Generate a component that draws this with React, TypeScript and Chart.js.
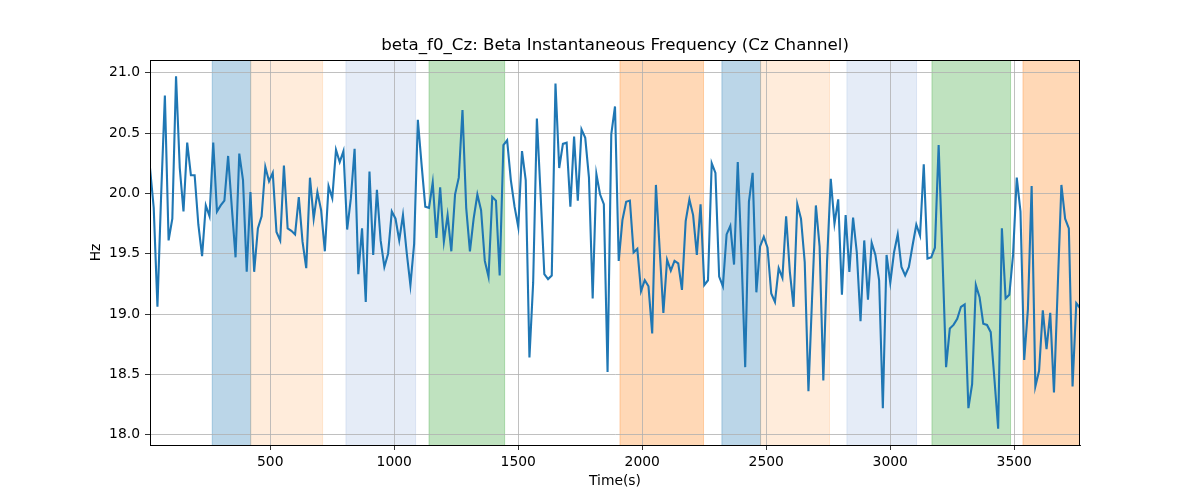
import React, { useEffect, useRef } from "react";
import { Chart, registerables } from "chart.js";

Chart.register(...registerables);

const TITLE = "beta_f0_Cz: Beta Instantaneous Frequency (Cz Channel)";
const X_LABEL = "Time(s)";
const Y_LABEL = "Hz";

// sampling of the series (seconds)
const T_START = 15;
const T_STEP = 15;

// instantaneous beta frequency (Hz)
const freq = [
  20.21, 19.88, 19.06, 19.99, 20.81, 19.61, 19.79, 20.97, 20.21, 19.85, 20.42, 20.15, 20.15, 19.74, 19.48, 19.9,
  19.81, 20.42, 19.85, 19.9, 19.94, 20.31, 19.88, 19.47, 20.33, 20.11, 19.35, 20.01, 19.35, 19.71, 19.81, 20.22, 20.1,
  20.17, 19.68, 19.61, 20.23, 19.71, 19.69, 19.66, 19.97, 19.6, 19.38, 20.13, 19.79, 20.01, 19.86, 19.52, 20.06,
  19.96, 20.36, 20.26, 20.35, 19.7, 19.96, 20.37, 19.33, 19.71, 19.1, 20.18, 19.49, 20.03, 19.61, 19.39, 19.5,
  19.85, 19.79, 19.61, 19.82, 19.51, 19.24, 19.58, 20.61, 20.24, 19.89, 19.88, 20.09, 19.63, 20.05, 19.6, 19.82,
  19.52, 19.99, 20.13, 20.69, 19.88, 19.52, 19.79, 19.99, 19.86, 19.44, 19.31, 19.97, 19.94, 19.32, 20.4, 20.44,
  20.11, 19.89, 19.72, 20.35, 20.11, 18.64, 19.26, 20.62, 19.99, 19.33, 19.29, 19.32, 20.91, 20.21, 20.41, 20.42,
  19.89, 20.47, 19.94, 20.53, 20.46, 20.13, 19.13, 20.16, 19.99, 19.91, 18.52, 20.49, 20.72, 19.44, 19.78, 19.93, 19.94,
  19.51, 19.54, 19.19, 19.28, 19.23, 18.84, 20.07, 19.54, 19.01, 19.45, 19.36, 19.44, 19.42, 19.2, 19.77, 19.95,
  19.82, 19.49, 19.91, 19.24, 19.28, 20.25, 20.17, 19.31, 19.23, 19.66, 19.73, 19.41, 20.26, 19.49, 18.56, 19.93,
  20.17, 19.18, 19.56, 19.64, 19.55, 19.17, 19.1, 19.38, 19.3, 19.81, 19.35, 19.06, 19.91, 19.79, 19.43, 18.36,
  19.15, 19.9, 19.56, 18.45, 19.43, 20.12, 19.75, 19.95, 19.16, 19.82, 19.35, 19.8, 19.51, 18.94, 19.61, 19.12,
  19.59, 19.49, 19.28, 18.22, 19.49, 19.26, 19.51, 19.66, 19.39, 19.32, 19.39, 19.57, 19.74, 19.65, 20.24, 19.46,
  19.47, 19.55, 20.4, 19.5, 18.56, 18.88, 18.91, 18.96, 19.06, 19.08, 18.22, 18.42, 19.24, 19.14, 18.92, 18.91,
  18.85, 18.46, 18.05, 19.71, 19.13, 19.16, 19.49, 20.13, 19.85, 18.62, 19.04, 20.06, 18.4, 18.53, 19.03, 18.71,
  19.01, 18.35, 19.21, 20.07, 19.79, 19.71, 18.4, 19.09, 19.05,
];

// shaded intervals (seconds) and their kind
const bandStart = [266, 421, 805, 1140, 1910, 2321, 2477, 2825, 3168, 3535];
const bandEnd = [421, 711, 1086, 1445, 2247, 2477, 2755, 3106, 3485, 3800];
const bandKind = ["blue", "orangeLight", "blueLight", "green", "orange", "blue", "orangeLight", "blueLight", "green", "orange"];

const xTicks = [500, 1000, 1500, 2000, 2500, 3000, 3500];
const yTicks = [18.0, 18.5, 19.0, 19.5, 20.0, 20.5, 21.0];

const X_MIN = 15;
const X_MAX = 3765;
const Y_MIN = 17.915;
const Y_MAX = 21.105;

const BAND_COLORS: Record<string, string> = {
  blue: "rgba(31,119,180,0.3)",
  orangeLight: "rgba(255,127,14,0.15)",
  blueLight: "rgba(100,140,210,0.17)",
  green: "rgba(44,160,44,0.3)",
  orange: "rgba(255,127,14,0.3)",
};

const FONT = "'DejaVu Sans', sans-serif";

const bandsPlugin = {
  id: "bands",
  beforeDraw(chart: any) {
    const { ctx, chartArea, scales } = chart;
    const xs = scales.x;
    ctx.save();
    ctx.beginPath();
    ctx.rect(chartArea.left, chartArea.top, chartArea.right - chartArea.left, chartArea.bottom - chartArea.top);
    ctx.clip();
    for (let i = 0; i < bandStart.length; i++) {
      const x0 = xs.getPixelForValue(bandStart[i]);
      const x1 = xs.getPixelForValue(bandEnd[i]);
      const c = BAND_COLORS[bandKind[i]];
      ctx.fillStyle = c;
      ctx.fillRect(x0, chartArea.top, x1 - x0, chartArea.bottom - chartArea.top);
      ctx.strokeStyle = c;
      ctx.lineWidth = 1;
      ctx.beginPath();
      ctx.moveTo(x0, chartArea.top);
      ctx.lineTo(x0, chartArea.bottom);
      ctx.moveTo(x1, chartArea.top);
      ctx.lineTo(x1, chartArea.bottom);
      ctx.stroke();
    }
    ctx.restore();
  },
  afterDraw(chart: any) {
    const { ctx, chartArea } = chart;
    ctx.save();
    ctx.strokeStyle = "#000";
    ctx.lineWidth = 1;
    ctx.strokeRect(
      Math.round(chartArea.left) + 0.5,
      Math.round(chartArea.top) + 0.5,
      Math.round(chartArea.right - chartArea.left) - 1,
      Math.round(chartArea.bottom - chartArea.top)
    );
    ctx.restore();
  },
};

export default function App() {
  const ref = useRef<HTMLCanvasElement | null>(null);

  useEffect(() => {
    if (!ref.current) return;
    const points = freq.map((v, i) => ({ x: T_START + i * T_STEP, y: v }));
    const chart = new Chart(ref.current, {
      type: "line",
      data: {
        datasets: [
          {
            data: points,
            borderColor: "#1f77b4",
            borderWidth: 2.1,
            pointRadius: 0,
            tension: 0,
            fill: false,
          },
        ],
      },
      options: {
        animation: false,
        responsive: false,
        devicePixelRatio: 1,
        layout: { padding: { left: 0, right: 120, top: 0, bottom: 0 } },
        plugins: {
          legend: { display: false },
          tooltip: { enabled: false },
          title: {
            display: true,
            text: TITLE,
            fullSize: false,
            color: "#000",
            font: { family: FONT, size: 16.67, weight: "normal", lineHeight: 1.2 },
            padding: { top: 36, bottom: 4 },
          },
        },
        scales: {
          x: {
            type: "linear",
            min: X_MIN,
            max: X_MAX,
            afterFit: (s: any) => {
              s.height = 55;
            },
            afterBuildTicks: (s: any) => {
              s.ticks = xTicks.map((v) => ({ value: v }));
            },
            ticks: {
              color: "#000",
              font: { family: FONT, size: 13.89 },
              padding: 4,
              maxRotation: 0,
              autoSkip: false,
              callback: (v: any) => String(v),
            },
            grid: {
              color: "#b0b0b0",
              lineWidth: 0.8,
              tickColor: "#000",
              tickLength: 5,
              drawTicks: true,
            },
            border: { display: true, color: "#000", width: 1 },
            title: {
              display: true,
              text: X_LABEL,
              color: "#000",
              font: { family: FONT, size: 13.89, lineHeight: 1.2 },
              padding: { top: 0, bottom: 10.7 },
            },
          },
          y: {
            type: "linear",
            min: Y_MIN,
            max: Y_MAX,
            afterFit: (s: any) => {
              s.width = 150;
            },
            afterBuildTicks: (s: any) => {
              s.ticks = yTicks.map((v) => ({ value: v }));
            },
            ticks: {
              color: "#000",
              font: { family: FONT, size: 13.89 },
              padding: 5,
              autoSkip: false,
              callback: (v: any) => Number(v).toFixed(1),
            },
            grid: {
              color: "#b0b0b0",
              lineWidth: 0.8,
              tickColor: "#000",
              tickLength: 5,
              drawTicks: true,
            },
            border: { display: true, color: "#000", width: 1 },
            title: {
              display: true,
              text: Y_LABEL,
              color: "#000",
              font: { family: FONT, size: 13.89, lineHeight: 1.2 },
              padding: { top: 87.7, bottom: 0 },
            },
          },
        },
      },
      plugins: [bandsPlugin],
    });
    return () => chart.destroy();
  }, []);

  return (
    <div style={{ position: "absolute", left: 0, top: 0, width: 1200, height: 500, background: "#fff" }}>
      <canvas ref={ref} width={1200} height={500} style={{ display: "block", width: 1200, height: 500 }} />
    </div>
  );
}
